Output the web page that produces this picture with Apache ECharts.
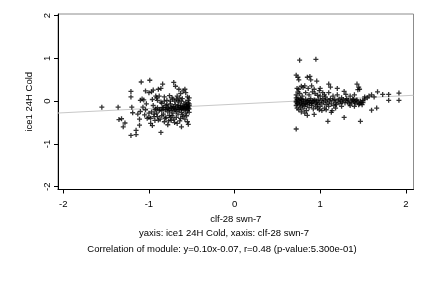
<!DOCTYPE html>
<html>
<head>
<meta charset="utf-8">
<script src="https://cdn.jsdelivr.net/npm/echarts@6/dist/echarts.min.js"></script>
<style>
  html, body { margin: 0; padding: 0; background: #fff; }
  #main { width: 432px; height: 288px; }
</style>
</head>
<body>
<div id="main"></div>
<script>
// left group (x around -1)
const groupLeft = [
  [-1.55,-0.14],[-1.36,-0.14],[-1.35,-0.43],[-1.32,-0.41],[-1.30,-0.60],[-1.28,-0.51],[-1.21,0.23],[-1.21,0.10],
  [-1.21,-0.80],[-1.20,-0.14],[-1.19,-0.27],[-1.15,-0.68],[-1.15,-0.78],[-1.11,-0.56],[-1.11,-0.42],[-1.10,-0.24],
  [-1.09,0.45],[-1.10,0.02],[-1.08,0.05],[-1.06,0.03],[-1.07,-0.14],[-1.04,0.24],[-1.05,-0.32],[-1.03,-0.06],
  [-0.99,0.49],[-1.00,0.20],[-0.97,0.22],[-0.95,0.26],[-1.00,-0.38],[-0.98,-0.52],[-0.96,-0.57],[-0.97,-0.25],
  [-0.95,-0.10],[-0.94,-0.30],[-0.93,-0.45],[-0.92,-0.18],[-0.91,0.08],[-0.90,-0.36],[-0.89,0.28],[-0.88,0.12],
  [-0.88,-0.22],[-0.87,-0.42],[-0.86,-0.73],[-0.86,0.30],[-0.85,-0.05],[-0.84,0.40],[-0.84,-0.15],[-0.83,-0.30],
  [-0.82,0.10],[-0.82,-0.48],[-0.81,-0.20],[-0.80,-0.10],[-0.80,-0.38],[-0.79,0.02],[-0.78,-0.25],[-0.78,-0.55],
  [-0.77,-0.16],[-0.76,0.13],[-0.76,-0.33],[-0.75,-0.06],[-0.74,-0.22],[-0.74,-0.45],[-0.73,-0.12],[-0.72,0.05],
  [-0.72,-0.28],[-0.71,0.44],[-0.70,-0.18],[-0.70,-0.50],[-0.69,0.35],[-0.69,-0.08],[-0.68,-0.24],[-0.68,-0.38],
  [-0.67,0.12],[-0.66,-0.14],[-0.66,-0.30],[-0.65,0.28],[-0.65,-0.02],[-0.64,-0.20],[-0.64,-0.46],[-0.63,0.18],
  [-0.63,-0.10],[-0.62,-0.26],[-0.62,-0.60],[-0.61,0.06],[-0.61,-0.16],[-0.60,-0.36],[-0.60,0.24],[-0.59,-0.06],
  [-0.59,-0.20],[-0.58,0.28],[-0.58,-0.12],[-0.58,-0.42],[-0.57,0.20],[-0.57,-0.02],[-0.57,-0.28],[-0.56,-0.08],
  [-0.56,-0.16],[-0.56,-0.34],[-0.55,0.10],[-0.55,-0.12],[-0.55,-0.22],[-0.55,-0.48],[-0.54,-0.04],[-0.54,-0.18],
  [-0.54,-0.54],[-0.54,0.02],[-0.53,-0.10],[-0.53,-0.26],
  [-0.93,-0.20],[-0.90,-0.15],[-0.87,-0.19],[-0.85,-0.22],[-0.83,-0.14],[-0.80,-0.19],[-0.78,-0.16],[-0.76,-0.21],
  [-0.74,-0.15],[-0.72,-0.18],[-0.71,-0.13],[-0.69,-0.20],[-0.67,-0.16],[-0.66,-0.10],[-0.65,-0.19],[-0.63,-0.14],
  [-0.62,-0.18],[-0.60,-0.12],[-0.60,-0.17],[-0.59,-0.14],[-0.58,-0.18],[-0.57,-0.15],[-0.56,-0.12],[-0.55,-0.16],
  [-0.54,-0.14],[-0.53,-0.06],[-0.53,-0.18],[-0.53,0.08],
  [-0.92,0.12],[-0.90,0.02],[-0.96,0.04],[-0.86,-0.02],[-0.82,0.00],[-0.79,-0.08],[-0.75,0.00],[-0.73,0.08],
  [-0.70,0.00],[-0.68,0.05],[-0.66,0.02],[-0.62,0.00],[-0.64,0.08],
  [-1.00,-0.28],[-0.98,-0.40],[-0.94,-0.36],[-0.91,-0.28],[-0.89,-0.44],[-0.85,-0.34],[-0.81,-0.40],[-0.77,-0.46],
  [-0.75,-0.38],[-0.73,-0.34],[-0.71,-0.42],[-0.67,-0.52],[-0.63,-0.40],[-0.61,-0.32],[-1.04,-0.20],[-1.02,-0.40],
  [-1.13,-0.30]
];

// right group (x around +1)
const groupRight = [
  [0.76,0.96],[0.95,0.98],[0.72,-0.65],[0.72,0.61],[0.74,0.56],[0.75,0.50],[0.85,0.56],[0.88,0.58],
  [0.89,0.50],[0.96,0.47],[1.10,0.40],[1.12,0.33],[1.43,0.40],[1.45,0.33],[1.44,0.27],[1.46,0.28],
  [1.28,0.23],[1.30,0.16],[1.67,0.22],[1.73,0.16],[1.80,0.16],[1.80,0.02],[1.92,0.19],[1.92,0.02],
  [1.60,-0.21],[1.66,-0.16],[1.28,-0.38],[1.09,-0.47],[1.47,-0.47],[0.85,-0.33],[0.93,-0.31],[1.13,-0.26],
  [1.14,-0.22],
  [0.73,0.30],[0.75,0.28],[0.78,0.35],[0.80,0.32],[0.82,0.36],[0.86,0.30],[0.90,0.36],[0.74,0.22],
  [0.72,0.15],[0.72,0.08],[0.76,0.18],[0.79,0.12],[0.83,0.20],[0.87,0.15],[0.91,0.22],[0.94,0.18],
  [0.97,0.14],[1.00,0.12],[1.03,0.20],[1.06,0.10],[0.99,0.25],[1.20,0.15],[1.25,0.08],[1.35,0.12],
  [1.40,0.15],[1.38,0.05],[1.52,0.05],[1.55,0.08],[1.57,0.12],[1.60,0.15],[1.63,0.10],[1.52,0.10],
  [1.50,0.02],[1.48,-0.04],[1.45,-0.08],[1.42,0.02],
  [0.72,-0.02],[0.72,-0.10],[0.73,0.04],[0.73,-0.16],[0.74,-0.05],[0.75,0.02],[0.75,-0.20],[0.76,-0.08],
  [0.77,0.06],[0.77,-0.14],[0.78,-0.02],[0.79,-0.10],[0.80,0.03],[0.80,-0.18],[0.81,-0.05],[0.82,-0.12],
  [0.83,0.05],[0.84,-0.02],[0.84,-0.22],[0.85,-0.08],[0.86,0.02],[0.87,-0.15],[0.88,-0.04],[0.89,0.06],
  [0.90,-0.10],[0.91,-0.02],[0.92,-0.18],[0.93,0.03],[0.94,-0.06],[0.95,-0.13],[0.96,0.00],[0.97,-0.08],
  [0.98,0.05],[0.99,-0.03],[1.00,-0.12],[1.01,0.02],[1.02,-0.06],[1.03,0.06],[1.04,-0.02],[1.05,-0.16],
  [1.06,0.01],[1.07,-0.08],[1.08,0.04],[1.09,-0.04],[1.10,-0.12],[1.11,0.00],[1.12,0.06],[1.13,-0.06],
  [1.15,0.02],[1.16,-0.10],[1.17,0.04],[1.18,-0.03],[1.19,-0.08],[1.21,0.01],[1.22,0.05],[1.23,-0.05],
  [1.24,0.00],[1.26,-0.02],[1.27,0.04],[1.29,-0.04],[1.30,0.02],[1.31,0.06],[1.32,-0.02],[1.33,0.03],
  [1.34,-0.06],[1.36,0.01],[1.37,-0.03],[1.39,0.04],[1.40,-0.01],[1.41,-0.05],[1.43,0.03],[1.44,-0.02],
  [1.46,-0.06],[1.47,0.00],[1.49,-0.08],[1.50,-0.03],
  [0.72,0.00],[0.73,-0.06],[0.74,0.08],[0.76,-0.02],[0.78,0.04],[0.79,-0.06],[0.81,0.00],[0.83,-0.07],
  [0.85,0.00],[0.87,-0.04],[0.88,0.02],[0.90,-0.05],[0.92,0.00],[0.94,0.02],[0.96,-0.04],[0.97,-0.16],
  [0.99,-0.20],[0.82,-0.28],[0.78,-0.25],[1.02,-0.22],[1.07,-0.20],[1.18,-0.16],[1.25,-0.12],[1.35,-0.10],
  [1.40,-0.12],[1.05,0.15],[1.15,0.12],[1.10,0.20],[1.20,0.30],[1.00,0.30],[0.93,0.28]
];

const xTicks = [-2, -1, 0, 1, 2];
const yTicks = [-2, -1, 0, 1, 2];
const xRange = [-2.062, 2.09];
const yRange = [-2.065, 2.04];
const fitSlope = 0.10;
const fitIntercept = -0.07;

const xName = 'clf-28 swn-7';
const yName = 'ice1 24H Cold';
const caption1 = 'yaxis: ice1 24H Cold, xaxis: clf-28 swn-7';
const caption2 = 'Correlation of module: y=0.10x-0.07, r=0.48 (p-value:5.300e-01)';

const fitLine = xRange.map(x => [x, fitSlope * x + fitIntercept]);
// "+" marker, arms a bit thicker so it stays dark
const plus = 'path://M1.85,0H3.15V1.85H5V3.15H3.15V5H1.85V3.15H0V1.85H1.85Z';
const font = 'Liberation Sans, Arial, Helvetica, sans-serif';

const chart = echarts.init(document.getElementById('main'), null, { renderer: 'canvas' });
chart.setOption({
  animation: false,
  backgroundColor: '#fff',
  textStyle: { fontFamily: font },
  grid: {
    left: 58, right: 18.5, top: 14, bottom: 98.5,
    show: true, borderColor: '#8c8c8c', borderWidth: 1
  },
  xAxis: {
    type: 'value',
    min: xRange[0], max: xRange[1],
    interval: 1,
    name: xName, nameLocation: 'middle', nameGap: 22,
    nameTextStyle: { fontSize: 9.5, color: '#000', fontFamily: font },
    axisLine: { show: true, onZero: false, lineStyle: { color: '#000', width: 1 } },
    axisTick: { show: true, length: 4, lineStyle: { color: '#000' }, customValues: xTicks },
    axisLabel: { fontSize: 9.5, color: '#000', margin: 10, customValues: xTicks, fontFamily: font },
    splitLine: { show: false }
  },
  yAxis: {
    type: 'value',
    min: yRange[0], max: yRange[1],
    interval: 1,
    name: yName, nameLocation: 'middle', nameGap: 19,
    nameTextStyle: { fontSize: 9.5, color: '#000', fontFamily: font },
    axisLine: { show: true, onZero: false, lineStyle: { color: '#000', width: 1 } },
    axisTick: { show: true, length: 4, lineStyle: { color: '#000' }, customValues: yTicks },
    axisLabel: { fontSize: 9.5, color: '#000', margin: 6, rotate: 90, customValues: yTicks, fontFamily: font },
    splitLine: { show: false }
  },
  graphic: [
    { type: 'text', x: 224, y: 233,
      style: { text: caption1, fontSize: 9.5, fill: '#000', fontFamily: font, align: 'center', verticalAlign: 'middle' } },
    { type: 'text', x: 222, y: 249.5,
      style: { text: caption2, fontSize: 9.5, fill: '#000', fontFamily: font, align: 'center', verticalAlign: 'middle' } }
  ],
  series: [
    {
      type: 'line',
      data: fitLine,
      symbol: 'none',
      lineStyle: { color: '#c8c8c8', width: 1 },
      silent: true,
      z: 1
    },
    {
      type: 'scatter',
      data: groupLeft,
      symbol: plus,
      symbolSize: 5,
      itemStyle: { color: '#000' },
      z: 2
    },
    {
      type: 'scatter',
      data: groupRight,
      symbol: plus,
      symbolSize: 5,
      itemStyle: { color: '#000' },
      z: 2
    }
  ]
});
</script>
</body>
</html>
